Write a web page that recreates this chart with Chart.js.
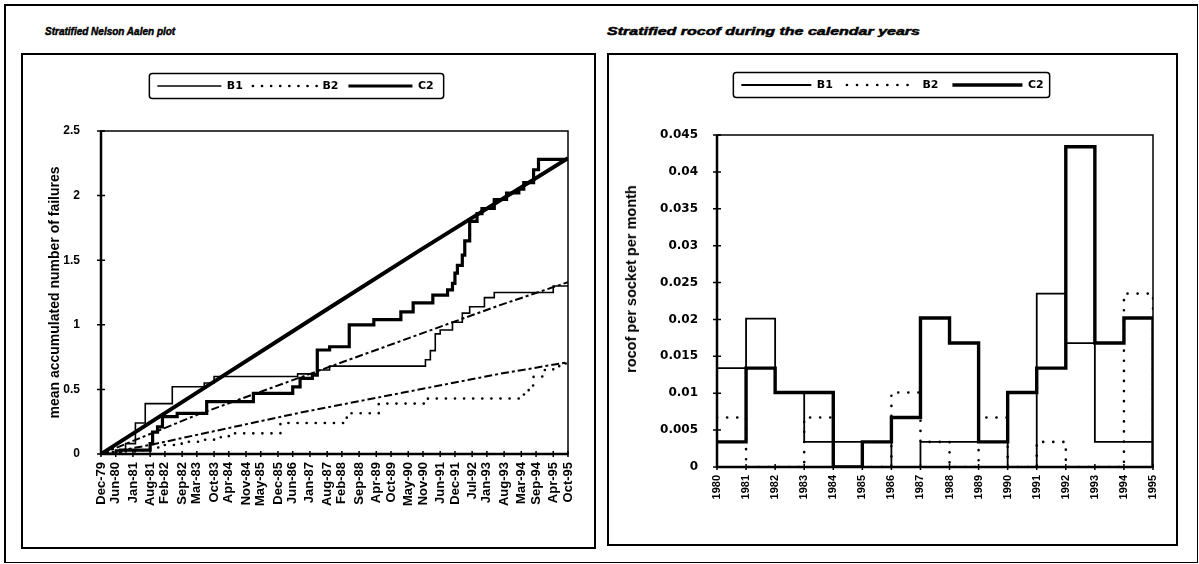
<!DOCTYPE html>
<html>
<head>
<meta charset="utf-8">
<script src="https://cdn.jsdelivr.net/npm/chart.js@4.4.1/dist/chart.umd.min.js"></script>
<style>
  body { margin: 0; background: #fff; }
  #page { position: relative; width: 1199px; height: 564px; overflow: hidden; background: #fff; }
  .frame { position: absolute; left: 4px; top: 4px; width: 1191px; height: 556px;
           border-top: 2px solid #000; border-left: 2px solid #000; border-right: 1px solid #000; border-bottom: 1px solid #000; }
  .title { position: absolute; font: italic bold 10px "Liberation Sans", Arial, sans-serif; white-space: nowrap; color: #000;
           -webkit-text-stroke: 0.45px #000; }
  .box { position: absolute; border: 2px solid #000; }
  .ytitle { position: absolute; font: bold 14.5px "Liberation Sans", Arial, sans-serif; white-space: nowrap;
            transform: translate(-50%, -50%) rotate(-90deg); color: #000; }
  canvas { position: absolute; }
</style>
</head>
<body>
<div id="page">
  <div class="frame"></div>
  <div class="title" style="left:45px; top:26px">Stratified Nelson Aalen plot</div>
  <div class="title" style="left:607px; top:26px; transform: scaleX(1.6); transform-origin: left center">Stratified rocof during the calendar years</div>
  <div class="box" style="left:21px; top:53px; width:571px; height:492px"></div>
  <div class="box" style="left:607px; top:53px; width:567px; height:489px"></div>
  <canvas id="naChart" width="571" height="492" style="left:23px; top:55px"></canvas>
  <canvas id="rocofChart" width="567" height="489" style="left:609px; top:55px"></canvas>
  <div class="ytitle" style="left:631px; top:279px">rocof per socket per month</div>
</div>
<script>
// ---- left chart: accumulated failures, x in months counted from Dec-79 ----
const monthTicks = [0, 6, 13, 20, 26, 33, 39, 46, 52, 59, 65, 72, 78, 85, 92, 98, 105, 112, 118, 125,
                    131, 138, 144, 151, 157, 164, 171, 177, 184, 190];
const monthLabels = ['Dec-79', 'Jun-80', 'Jan-81', 'Aug-81', 'Feb-82', 'Sep-82', 'Mar-83', 'Oct-83', 'Apr-84', 'Nov-84',
                     'May-85', 'Dec-85', 'Jun-86', 'Jan-87', 'Aug-87', 'Feb-88', 'Sep-88', 'Apr-89', 'Oct-89', 'May-90',
                     'Nov-90', 'Jun-91', 'Dec-91', 'Jul-92', 'Jan-93', 'Aug-93', 'Mar-94', 'Sep-94', 'Apr-95', 'Oct-95'];
const failTicks = [0, 0.5, 1, 1.5, 2, 2.5];
const failLabels = ['0', '0.5', '1', '1.5', '2', '2.5'];

// Nelson Aalen step estimates
const b1StepMonths = [0, 6, 10, 14, 18, 29, 42, 46, 80, 88, 93, 132, 134, 136, 138, 143, 147, 150, 156, 160, 184, 190];
const b1StepValues = [0, 0.03, 0.08, 0.24, 0.39, 0.52, 0.55, 0.60, 0.62, 0.65, 0.68, 0.73, 0.80, 0.93, 0.96, 1.02, 1.09, 1.14, 1.21, 1.25, 1.30, 1.30];
const b2StepMonths = [0, 4, 17, 20, 25, 30, 35, 41, 46, 52, 73, 100, 113, 133, 172, 174, 176, 180, 184, 188, 190];
const b2StepValues = [0, 0.02, 0.04, 0.05, 0.07, 0.08, 0.095, 0.11, 0.13, 0.16, 0.24, 0.315, 0.39, 0.43, 0.46, 0.53, 0.60, 0.65, 0.68, 0.70, 0.71];
const c2StepMonths = [0, 8, 20, 21, 23, 25, 31, 43, 62, 78, 81, 86, 88, 93, 101, 111, 122, 127, 135, 141, 143, 144,
                      145, 147, 148, 150, 153, 155, 160, 165, 170, 172, 176, 178, 190];
const c2StepValues = [0, 0.03, 0.08, 0.17, 0.21, 0.29, 0.315, 0.405, 0.47, 0.52, 0.585, 0.61, 0.805, 0.83, 1.0, 1.04, 1.10, 1.17, 1.23, 1.27, 1.32, 1.40,
                      1.46, 1.54, 1.65, 1.80, 1.86, 1.90, 1.97, 2.02, 2.05, 2.10, 2.20, 2.28, 2.28];

// fitted trend lines
const c2FitMonths = [0, 46, 92, 130, 190];
const c2FitValues = [0, 0.56, 1.12, 1.58, 2.29];
const b1FitMonths = [0, 40, 93, 162, 190];
const b1FitValues = [0, 0.31, 0.675, 1.15, 1.33];
const b2FitMonths = [0, 20, 81, 162, 190];
const b2FitValues = [0, 0.07, 0.32, 0.62, 0.71];

// ---- right chart: rocof per calendar year ----
const years = [1980, 1981, 1982, 1983, 1984, 1985, 1986, 1987, 1988, 1989, 1990, 1991, 1992, 1993, 1994, 1995];
const b1Rocof = [0.0134, 0.0201, 0.0101, 0.0034, 0.0034, 0.0034, 0, 0.0034, 0.0034, 0.0034, 0, 0.0235, 0.0168, 0.0034, 0.0034, 0];
const b2Rocof = [0.0067, 0, 0, 0.0067, 0, 0, 0.0101, 0.0034, 0, 0.0067, 0, 0.0034, 0, 0, 0.0235, 0];
const c2Rocof = [0.0034, 0.0134, 0.0101, 0.0101, 0, 0.0034, 0.0067, 0.0202, 0.0168, 0.0034, 0.0101, 0.0134, 0.0434, 0.0168, 0.0202, 0];
const rocofTicks = [0, 0.005, 0.01, 0.015, 0.02, 0.025, 0.03, 0.035, 0.04, 0.045];
const rocofLabels = ['0', '0.005', '0.01', '0.015', '0.02', '0.025', '0.03', '0.035', '0.04', '0.045'];

Chart.defaults.font.family = "'Liberation Sans', Arial, sans-serif";
Chart.defaults.font.weight = 'bold';
Chart.defaults.color = '#000';

const pts = (xs, ys) => xs.map((x, i) => ({ x: x, y: ys[i] }));

// plot frame, heavier axis lines and ticks crossing the axes
const axisFrame = {
  id: 'axisFrame',
  beforeDatasetsDraw(chart) {
    const { ctx, chartArea: a, scales: { x, y } } = chart;
    ctx.save();
    ctx.strokeStyle = '#000';
    ctx.lineWidth = 1.5;
    ctx.strokeRect(a.left, a.top, a.right - a.left, a.bottom - a.top);
    ctx.lineWidth = 2.5;
    ctx.beginPath();
    ctx.moveTo(a.left, a.top);
    ctx.lineTo(a.left, a.bottom);
    ctx.lineTo(a.right, a.bottom);
    ctx.stroke();
    ctx.lineWidth = 1.5;
    ctx.beginPath();
    y.ticks.forEach(t => {
      const py = y.getPixelForValue(t.value);
      ctx.moveTo(a.left - 4, py);
      ctx.lineTo(a.left + 4, py);
    });
    x.ticks.forEach(t => {
      const px = x.getPixelForValue(t.value);
      ctx.moveTo(px, a.bottom - 3);
      ctx.lineTo(px, a.bottom + 3);
    });
    ctx.stroke();
    ctx.restore();
  }
};

// rounded box around the legend items
const legendFrame = {
  id: 'legendFrame',
  afterDraw(chart, args, opts) {
    const boxes = chart.legend && chart.legend.legendHitBoxes;
    if (!boxes || !boxes.length) return;
    const first = boxes[0], last = boxes[boxes.length - 1];
    const left = first.left - opts.padLeft;
    const right = last.left + last.width + opts.padRight;
    const top = first.top - opts.padY;
    const bottom = first.top + first.height + opts.padY;
    const ctx = chart.ctx;
    ctx.save();
    ctx.strokeStyle = '#000';
    ctx.lineWidth = 1.5;
    ctx.beginPath();
    ctx.roundRect(left, top, right - left, bottom - top, 3);
    ctx.stroke();
    ctx.restore();
  }
};

// invisible axis used only to reserve space
const spacer = (position, size) => ({
  type: 'linear',
  position: position,
  display: true,
  ticks: { display: false },
  grid: { display: false, drawTicks: false },
  border: { display: false },
  afterFit: s => { if (position === 'top') s.height = size; else s.width = size; }
});

// legend shows the three step series with their own line styles
const legendOpts = (lineLen, pad) => ({
  position: 'top',
  labels: {
    usePointStyle: true,
    pointStyle: 'line',
    pointStyleWidth: lineLen,
    padding: pad,
    color: '#000',
    font: { family: "'DejaVu Sans', sans-serif", size: 11, weight: 'bold' },
    generateLabels: chart => chart.data.datasets.slice(0, 3).map((ds, i) => ({
      text: ds.label,
      datasetIndex: i,
      fontColor: '#000',
      fillStyle: '#000',
      strokeStyle: '#000',
      lineWidth: ds.borderWidth,
      lineDash: ds.borderDash || [],
      lineCap: ds.borderCapStyle || 'butt',
      pointStyle: 'line',
      hidden: false
    }))
  }
});

const naChart = new Chart(document.getElementById('naChart'), {
  type: 'line',
  data: {
    datasets: [
      { label: 'B1', data: pts(b1StepMonths, b1StepValues), stepped: 'before', borderColor: '#000', borderWidth: 1.6 },
      { label: 'B2', data: pts(b2StepMonths, b2StepValues), stepped: 'before', borderColor: '#000', borderWidth: 2.6,
        borderDash: [0.1, 9], borderCapStyle: 'round' },
      { label: 'C2', data: pts(c2StepMonths, c2StepValues), stepped: 'before', borderColor: '#000', borderWidth: 3.2 },
      { label: 'C2 fit', data: pts(c2FitMonths, c2FitValues), borderColor: '#000', borderWidth: 4 },
      { label: 'B1 fit', data: pts(b1FitMonths, b1FitValues), borderColor: '#000', borderWidth: 2, borderDash: [8, 3, 3, 3] },
      { label: 'B2 fit', data: pts(b2FitMonths, b2FitValues), borderColor: '#000', borderWidth: 2, borderDash: [8, 3, 3, 3] }
    ]
  },
  options: {
    responsive: false,
    animation: false,
    elements: { point: { radius: 0 }, line: { tension: 0, fill: false } },
    layout: { padding: { left: 0, right: 26, top: 15.5, bottom: 0 } },
    scales: {
      x: {
        type: 'linear', min: 0, max: 190,
        afterBuildTicks: s => { s.ticks = monthTicks.map(v => ({ value: v })); },
        afterFit: s => { s.height = 93; },
        grid: { display: false, drawTicks: false },
        border: { display: false },
        ticks: {
          autoSkip: false, minRotation: 90, maxRotation: 90, padding: 8,
          font: { size: 13, weight: 'bold' },
          callback: (v, i) => monthLabels[i]
        }
      },
      y: {
        type: 'linear', min: 0, max: 2.5,
        afterBuildTicks: s => { s.ticks = failTicks.map(v => ({ value: v })); },
        afterFit: s => { s.width = 78; },
        grid: { display: false, drawTicks: false },
        border: { display: false },
        ticks: { padding: 21, font: { size: 12, weight: 'bold' }, callback: (v, i) => failLabels[i] },
        title: { display: true, text: 'mean accumulated number of failures', padding: { top: 23.6, bottom: 0 },
                 font: { size: 14, weight: 'bold' } }
      },
      gapTop: spacer('top', 29.5)
    },
    plugins: {
      legend: legendOpts(64, 10),
      legendFrame: { padLeft: 8, padRight: 10, padY: 7 },
      tooltip: { enabled: false }
    }
  },
  plugins: [axisFrame, legendFrame]
});

const rocofChart = new Chart(document.getElementById('rocofChart'), {
  type: 'line',
  data: {
    datasets: [
      { label: 'B1', data: pts(years, b1Rocof), stepped: 'before', borderColor: '#000', borderWidth: 1.8 },
      { label: 'B2', data: pts(years, b2Rocof), stepped: 'before', borderColor: '#000', borderWidth: 2.6,
        borderDash: [0.1, 10], borderCapStyle: 'round' },
      { label: 'C2', data: pts(years, c2Rocof), stepped: 'before', borderColor: '#000', borderWidth: 3.4 }
    ]
  },
  options: {
    responsive: false,
    animation: false,
    elements: { point: { radius: 0 }, line: { tension: 0, fill: false } },
    layout: { padding: { left: 0, right: 0, top: 10.5, bottom: 0 } },
    scales: {
      x: {
        type: 'linear', min: 1980, max: 1995,
        afterBuildTicks: s => { s.ticks = years.map(v => ({ value: v })); },
        afterFit: s => { s.height = 77; },
        grid: { display: false, drawTicks: false },
        border: { display: false },
        ticks: {
          autoSkip: false, minRotation: 90, maxRotation: 90, padding: 8,
          font: { size: 11, weight: 'bold' },
          callback: (v, i) => String(years[i])
        }
      },
      y: {
        type: 'linear', min: 0, max: 0.045,
        afterBuildTicks: s => { s.ticks = rocofTicks.map(v => ({ value: v })); },
        afterFit: s => { s.width = 108; },
        grid: { display: false, drawTicks: false },
        border: { display: false },
        ticks: { padding: 19, font: { family: "'DejaVu Sans', sans-serif", size: 12, weight: 'bold' },
                 callback: (v, i) => rocofLabels[i] }
      },
      gapTop: spacer('top', 34.5),
      gapRight: spacer('right', 23)
    },
    plugins: {
      legend: legendOpts(70, 14),
      legendFrame: { padLeft: 8, padRight: 6, padY: 7 },
      tooltip: { enabled: false }
    }
  },
  plugins: [axisFrame, legendFrame]
});
</script>
</body>
</html>
